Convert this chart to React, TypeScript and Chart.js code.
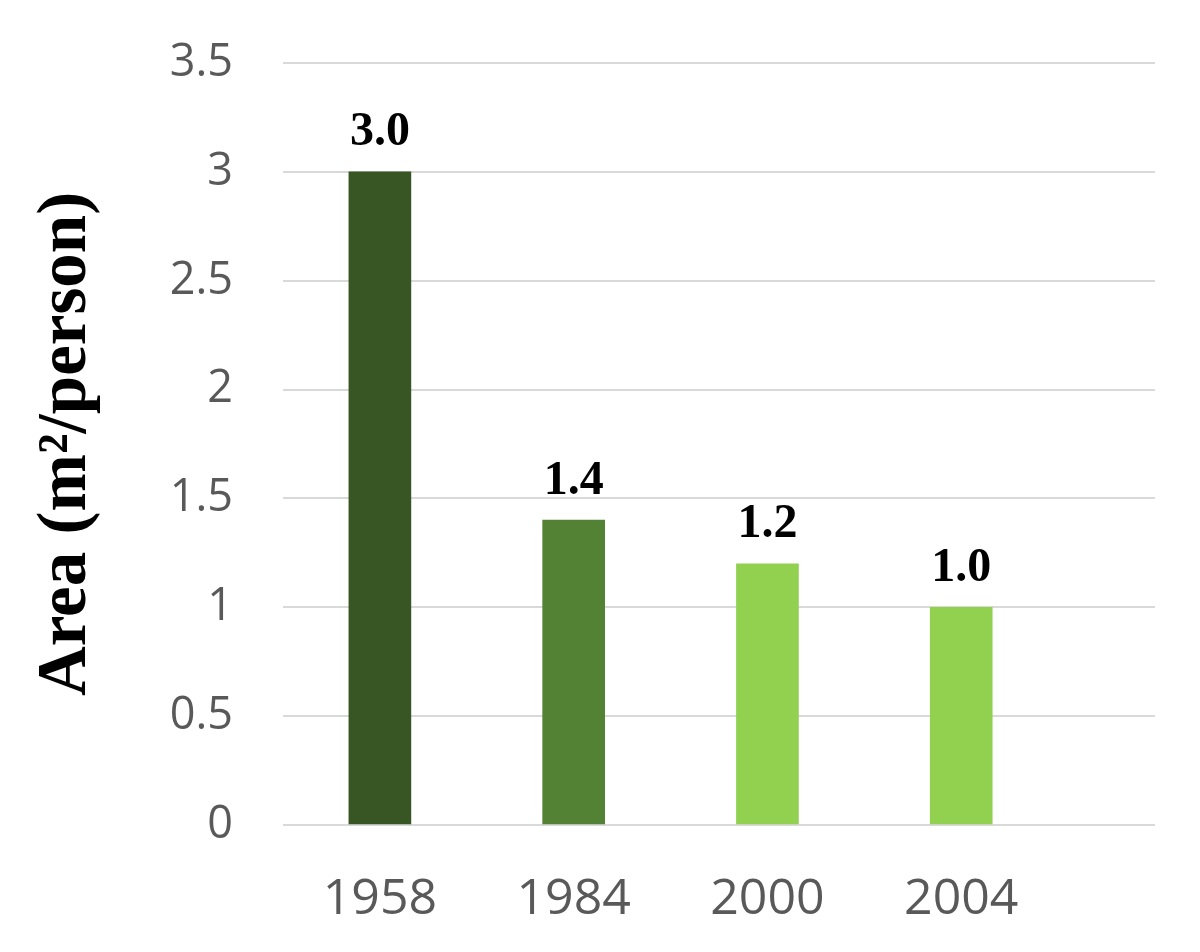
import React, { useEffect, useRef } from "react";
import { Chart, registerables } from "chart.js";

Chart.register(...registerables);

const categories = ["1958", "1984", "2000", "2004"];
const areaValues = [3.0, 1.4, 1.2, 1.0];
const barColors = ["#375623", "#548235", "#92D050", "#92D050"];
const yTicks = [0, 0.5, 1, 1.5, 2, 2.5, 3, 3.5];
const yTitle = "Area (m\u00B2/person)";

const valueLabelPlugin = {
  id: "valueLabels",
  afterDatasetsDraw(chart: any) {
    const ctx = chart.ctx;
    const meta = chart.getDatasetMeta(0);
    ctx.save();
    ctx.font = "bold 48px 'Liberation Serif', 'Times New Roman', serif";
    ctx.fillStyle = "#000000";
    ctx.textAlign = "center";
    ctx.textBaseline = "bottom";
    meta.data.forEach((el: any, i: number) => {
      const v = chart.data.datasets[0].data[i];
      const val = typeof v === "object" ? v.y : v;
      ctx.fillText(Number(val).toFixed(1), el.x, el.y - 15);
    });
    ctx.restore();
  },
};

export default function App() {
  const ref = useRef<HTMLCanvasElement | null>(null);

  useEffect(() => {
    if (!ref.current) return;
    const chart = new Chart(ref.current, {
      type: "bar",
      data: {
        datasets: [
          {
            data: areaValues.map((v, i) => ({ x: i, y: v })),
            backgroundColor: barColors,
            borderWidth: 0,
            barThickness: 62,
          },
        ],
      },
      plugins: [valueLabelPlugin],
      options: {
        animation: false,
        responsive: true,
        maintainAspectRatio: false,
        layout: { padding: { left: 0, right: 45, top: 63, bottom: 0 } },
        plugins: {
          legend: { display: false },
          tooltip: { enabled: false },
        },
        scales: {
          x: {
            type: "linear",
            offset: false,
            min: -0.5,
            max: 4.0,
            grid: { display: false, drawTicks: false },
            border: { display: false },
            afterBuildTicks: (scale: any) => {
              scale.ticks = categories.map((_, i) => ({ value: i }));
            },
            afterFit: (scale: any) => {
              scale.height = 127;
              scale.paddingLeft = 0;
              scale.paddingRight = 0;
            },
            ticks: {
              autoSkip: false,
              maxRotation: 0,
              padding: 45,
              color: "#595959",
              font: { family: "'Open Sans', sans-serif", size: 50 },
              callback: (v: any) => {
                const idx = Math.round(Number(v));
                return categories[idx] !== undefined && Math.abs(Number(v) - idx) < 1e-6
                  ? categories[idx]
                  : "";
              },
            },
          },
          y: {
            type: "linear",
            min: 0,
            max: 3.5,
            afterBuildTicks: (scale: any) => {
              scale.ticks = yTicks.map((v) => ({ value: v }));
            },
            afterFit: (scale: any) => {
              scale.width = 283;
              scale.paddingTop = 0;
              scale.paddingBottom = 0;
            },
            grid: { color: "#d9d9d9", lineWidth: 2, drawTicks: false },
            border: { display: false },
            ticks: {
              padding: 50,
              color: "#595959",
              font: { family: "'Open Sans', sans-serif", size: 45 },
              callback: (v: any) => String(v),
            },
            title: {
              display: true,
              text: yTitle,
              color: "#000000",
              padding: { top: 26, bottom: 0 },
              font: {
                family: "'Liberation Serif', 'Times New Roman', serif",
                size: 69,
                weight: "bold",
              },
            },
          },
        },
      },
    });
    return () => chart.destroy();
  }, []);

  return (
    <div style={{ position: "absolute", left: 0, top: 0, width: 1200, height: 952, background: "#ffffff" }}>
      <canvas ref={ref} />
    </div>
  );
}
